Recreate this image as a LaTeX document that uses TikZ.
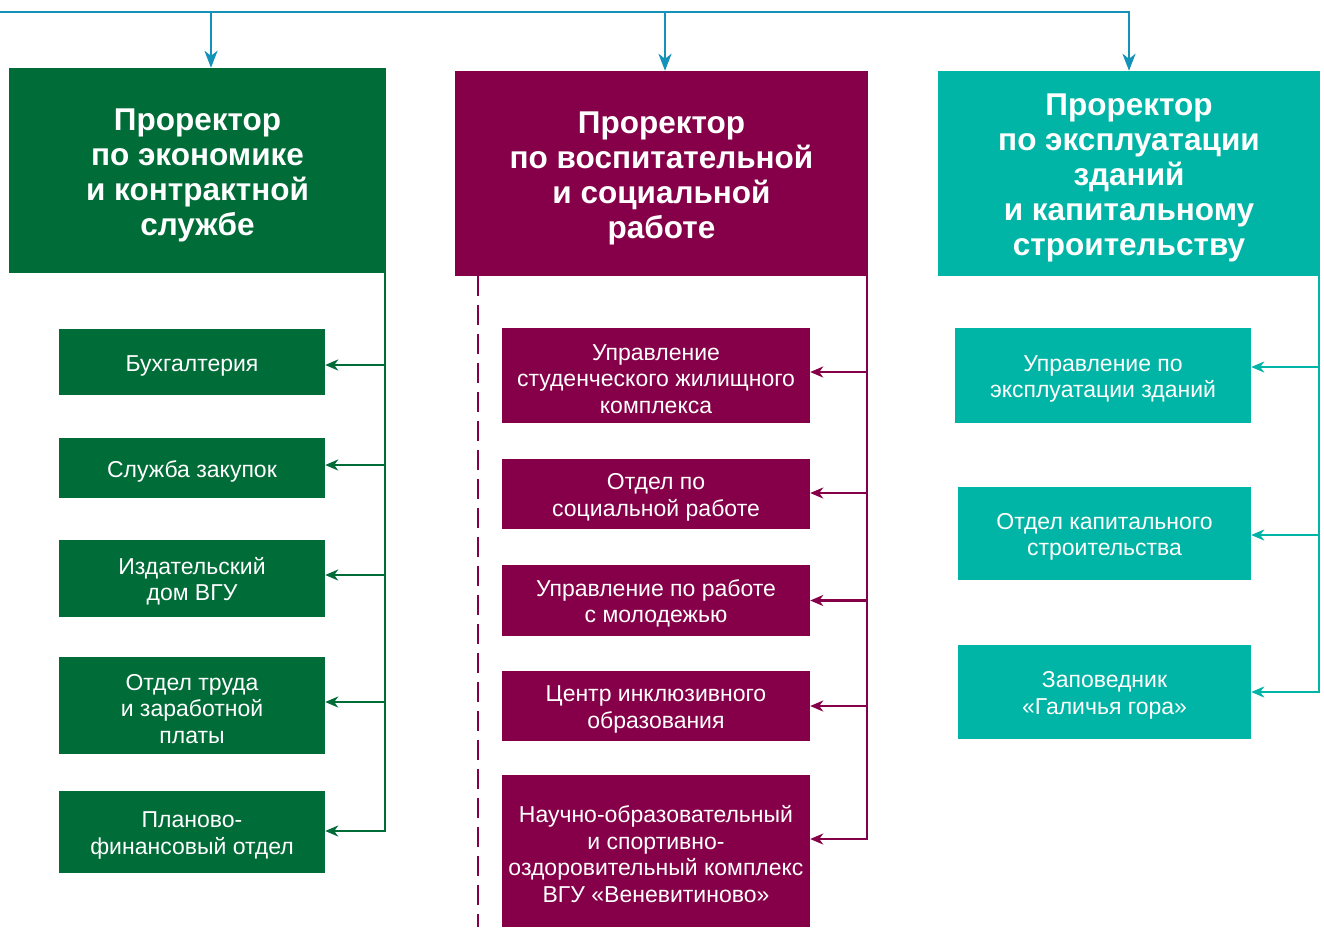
\documentclass[tikz,border=0pt]{standalone}
\usepackage{fontspec}
\setmainfont{Liberation Sans}
\usetikzlibrary{arrows.meta}
\definecolor{vgugreen}{RGB}{0,108,56}
\definecolor{vgumaroon}{RGB}{133,0,72}
\definecolor{vguteal}{RGB}{0,181,165}
\definecolor{vgublue}{RGB}{20,146,186}
\newcommand{\headroom}{\rule{0pt}{1em}}

\begin{document}
\begin{tikzpicture}[x = 1pt, y = -1pt,
    head/.style = {text = white, align = center, inner sep = 0pt,
      font = \fontsize{31.5}{35}\selectfont\bfseries},
    unit/.style = {text = white, align = center, inner sep = 0pt,
      font = \fontsize{23}{26.5}\selectfont},
    bus/.style = {draw = vgublue, line width = 2.6pt},
    link/.style = {line width = 2.2pt, -{Stealth[length = 13pt, width = 11pt, inset = 4pt]}}]
        \useasboundingbox (0, 0) rectangle (1324, 927);

        % vice-rectors
        \node [head, fill = vgugreen, minimum width = 377pt, minimum height = 205pt] (vp1) at (197.5, 170.5)
          {\headroom Проректор\\по экономике\\и контрактной\\службе};
        \node [head, fill = vgumaroon, minimum width = 413pt, minimum height = 205pt] (vp2) at (661.5, 173.5)
          {\headroom Проректор\\по воспитательной\\и социальной\\работе};
        \node [head, fill = vguteal, minimum width = 382pt, minimum height = 205pt] (vp3) at (1129, 173.5)
          {\headroom Проректор\\по эксплуатации\\зданий\\и капитальному\\строительству};

        \coordinate (bus) at (0, 12);
        \draw [bus, -{Stealth[length = 17pt, width = 13pt, inset = 5pt]}] (bus) -| (vp3.north);
        \draw [bus, -{Stealth[length = 17pt, width = 13pt, inset = 5pt]}] (bus -| 211, 0) -- ([xshift = 13.5pt] vp1.north);
        \draw [bus, -{Stealth[length = 17pt, width = 13pt, inset = 5pt]}] (bus -| 665, 0) -- ([xshift = 3.5pt] vp2.north);

        % left column
        \node [unit, fill = vgugreen, minimum width = 266pt, minimum height = 66pt] (b1) at (192, 362) {\headroom Бухгалтерия};
        \node [unit, fill = vgugreen, minimum width = 266pt, minimum height = 60pt] (b2) at (192, 468) {\headroom Служба закупок};
        \node [unit, fill = vgugreen, minimum width = 266pt, minimum height = 77pt] (b3) at (192, 578.5) {\headroom Издательский\\дом ВГУ};
        \node [unit, fill = vgugreen, minimum width = 266pt, minimum height = 97pt] (b4) at (192, 705.5) {\headroom Отдел труда\\и заработной\\платы};
        \node [unit, fill = vgugreen, minimum width = 266pt, minimum height = 82pt] (b5) at (192, 832) {\headroom Планово-\\финансовый отдел};

        \draw [link, vgugreen] ([xshift = -1pt] vp1.south east) |- ([yshift = -3pt] b1.east);
        \draw [link, vgugreen] ([xshift = -1pt] vp1.south east) |- ([yshift = 3pt] b2.east);
        \draw [link, vgugreen] ([xshift = -1pt] vp1.south east) |- ([yshift = 3.5pt] b3.east);
        \draw [link, vgugreen] ([xshift = -1pt] vp1.south east) |- ([yshift = 3.5pt] b4.east);
        \draw [link, vgugreen] ([xshift = -1pt] vp1.south east) |- ([yshift = 1pt] b5.east);

        % middle column
        \node [unit, fill = vgumaroon, minimum width = 308pt, minimum height = 95pt] (m1) at (656, 375.5)
          {\headroom Управление\\студенческого жилищного\\комплекса};
        \node [unit, fill = vgumaroon, minimum width = 308pt, minimum height = 70pt] (m2) at (656, 494)
          {\headroom Отдел по\\социальной работе};
        \node [unit, fill = vgumaroon, minimum width = 308pt, minimum height = 71pt] (m3) at (656, 600.5)
          {\headroom Управление по работе\\с молодежью};
        \node [unit, fill = vgumaroon, minimum width = 308pt, minimum height = 70pt] (m4) at (656, 706)
          {\headroom Центр инклюзивного\\образования};
        \node [unit, fill = vgumaroon, minimum width = 308pt, minimum height = 152pt] (m5) at (656, 851)
          {\headroom Научно-образовательный\\и спортивно-\\оздоровительный комплекс\\ВГУ «Веневитиново»};

        \draw [link, vgumaroon] ([xshift = -1pt] vp2.south east) |- ([yshift = 3.5pt] m1.east);
        \draw [link, vgumaroon] ([xshift = -1pt] vp2.south east) |- ([yshift = 1pt] m2.east);
        \draw [link, vgumaroon] ([xshift = -1pt] vp2.south east) |- (m3.east);
        \draw [link, vgumaroon] ([xshift = -1pt] vp2.south east) |- (m4.east);
        \draw [link, vgumaroon] ([xshift = -1pt] vp2.south east) |- ([yshift = 12pt] m5.east);

        \coordinate (dashend) at (478, 927);
        \draw [vgumaroon, line width = 2.2pt, dash pattern = on 20pt off 9pt] (vp2.south -| dashend) -- (dashend);

        % right column
        \node [unit, fill = vguteal, minimum width = 296pt, minimum height = 95pt] (r1) at (1103, 375.5)
          {\headroom Управление по\\эксплуатации зданий};
        \node [unit, fill = vguteal, minimum width = 293pt, minimum height = 93pt] (r2) at (1104.5, 533.5)
          {\headroom Отдел капитального\\строительства};
        \node [unit, fill = vguteal, minimum width = 293pt, minimum height = 94pt] (r3) at (1104.5, 692)
          {\headroom Заповедник\\«Галичья гора»};

        \draw [link, vguteal] ([xshift = -1pt] vp3.south east) |- ([yshift = 8.5pt] r1.east);
        \draw [link, vguteal] ([xshift = -1pt] vp3.south east) |- ([yshift = -1.5pt] r2.east);
        \draw [link, vguteal] ([xshift = -1pt] vp3.south east) |- (r3.east);

      \end{tikzpicture}
\end{document}
